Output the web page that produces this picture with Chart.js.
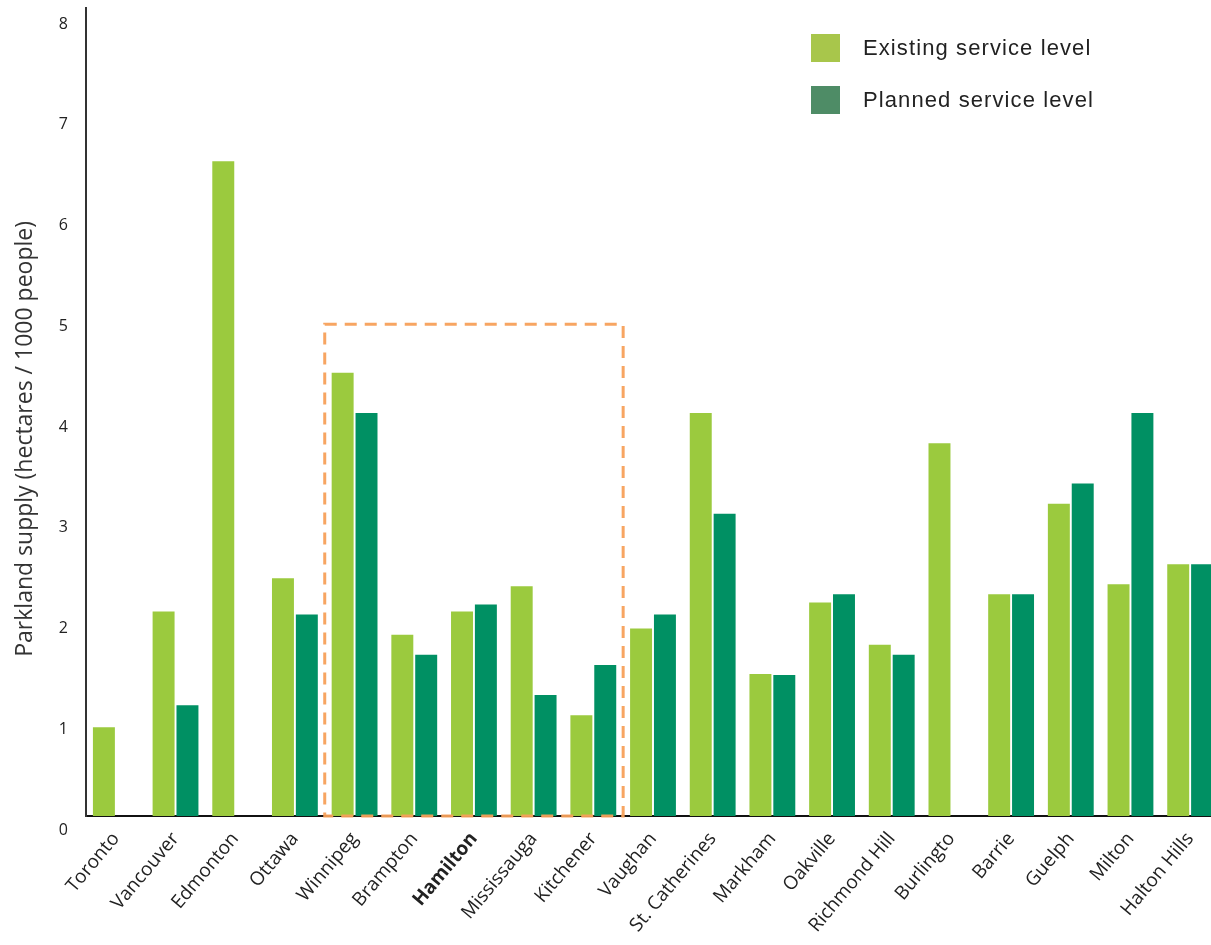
<!DOCTYPE html>
<html>
<head>
<meta charset="utf-8">
<script src="https://cdn.jsdelivr.net/npm/chart.js@4.4.1/dist/chart.umd.min.js"></script>
<style>
  html, body { margin: 0; padding: 0; background: #fff; overflow: hidden; }
  #wrap { position: relative; width: 1222px; height: 945px; }
  #legend { position: absolute; left: 811px; top: 34px; font-family: "Liberation Sans", Arial, sans-serif; font-size: 22px; letter-spacing: 1.1px; color: #222; }
  #legend div { height: 52px; display: flex; align-items: flex-start; }
  #legend span.box { display: inline-block; width: 29px; height: 28px; margin-right: 23px; }
  #legend span.txt { line-height: 28px; }
</style>
</head>
<body>
<div id="wrap">
  <canvas id="myChart" width="1222" height="945"></canvas>
  <div id="legend"></div>
</div>
<script>
let cities = ['Toronto', 'Vancouver', 'Edmonton', 'Ottawa', 'Winnipeg', 'Brampton', 'Hamilton', 'Mississauga', 'Kitchener',
  'Vaughan', 'St. Catherines', 'Markham', 'Oakville', 'Richmond Hill', 'Burlingto', 'Barrie', 'Guelph', 'Milton', 'Halton Hills'];
let existing = [1.0, 2.15, 6.62, 2.48, 4.52, 1.92, 2.15, 2.4, 1.12, 1.98, 4.12, 1.53, 2.24, 1.82, 3.82, 2.32, 3.22, 2.42, 2.62];
let planned = [null, 1.22, null, 2.12, 4.12, 1.72, 2.22, 1.32, 1.62, 2.12, 3.12, 1.52, 2.32, 1.72, null, 2.32, 3.42, 4.12, 2.62];
let yTicks = [0, 1, 2, 3, 4, 5, 6, 7, 8];
let highlightCity = 'Hamilton';
// dashed box goes round Winnipeg .. Kitchener, up to 5
let boxFrom = 'Winnipeg';
let boxTo = 'Kitchener';
let boxTop = 5;

let seriesNames = ['Existing service level', 'Planned service level'];
let barColors = ['#9BCA3E', '#009063'];
let legendColors = ['#A8C64B', '#4E8C66'];

// y axis baseline sits a little above the "0" label in the original
let yMin = 0.12;
let yMax = 8.14;

let legendEl = document.getElementById('legend');
seriesNames.forEach(function (name, i) {
  let row = document.createElement('div');
  row.innerHTML = '<span class="box" style="background:' + legendColors[i] + '"></span><span class="txt">' + name + '</span>';
  legendEl.appendChild(row);
});

let dashedBox = {
  id: 'dashedBox',
  afterDatasetsDraw(chart) {
    let x = chart.scales.x, y = chart.scales.y;
    let i1 = cities.indexOf(boxFrom), i2 = cities.indexOf(boxTo);
    let left = (x.getPixelForValue(i1 - 1) + x.getPixelForValue(i1)) / 2;
    let right = (x.getPixelForValue(i2) + x.getPixelForValue(i2 + 1)) / 2;
    let top = y.getPixelForValue(boxTop);
    let bottom = y.getPixelForValue(yMin);
    let ctx = chart.ctx;
    ctx.save();
    ctx.strokeStyle = 'rgba(247, 160, 90, 0.95)';
    ctx.lineWidth = 3;
    ctx.setLineDash([12, 8]);
    ctx.strokeRect(left, top, right - left, bottom - top);
    ctx.restore();
  }
};

let ctx = document.getElementById('myChart').getContext('2d');
let chart = new Chart(ctx, {
  type: 'bar',
  data: {
    labels: cities,
    datasets: [{
      label: seriesNames[0],
      data: existing,
      backgroundColor: barColors[0]
    }, {
      label: seriesNames[1],
      data: planned,
      backgroundColor: barColors[1]
    }]
  },
  options: {
    responsive: false,
    animation: false,
    layout: { padding: { top: 8, right: 2, left: 0, bottom: 0 } },
    categoryPercentage: 0.8,
    barPercentage: 0.92,
    plugins: {
      legend: { display: false },
      tooltip: { enabled: false }
    },
    scales: {
      x: {
        grid: { display: false, drawTicks: false },
        border: { color: '#111', width: 2 },
        afterFit: function (scale) {
          scale.height = 129;
          scale.paddingRight = 0;
        },
        ticks: {
          autoSkip: false,
          minRotation: 50,
          maxRotation: 50,
          padding: 12,
          color: '#222',
          font: function (c) {
            return {
              family: '"Open Sans", sans-serif',
              size: 19,
              weight: cities[c.index] === highlightCity ? 'bold' : 'normal'
            };
          }
        }
      },
      y: {
        min: yMin,
        max: yMax,
        bounds: 'data',
        grid: { display: false, drawTicks: false },
        border: { color: '#333', width: 2 },
        afterFit: function (scale) {
          scale.width = 86;
          scale.paddingTop = 0;
          scale.paddingBottom = 0;
        },
        afterBuildTicks: function (scale) {
          scale.ticks = yTicks.map(function (v) { return { value: v }; });
        },
        ticks: {
          padding: 18,
          labelOffset: 2,
          color: '#222',
          font: { family: '"Open Sans", sans-serif', size: 16 }
        },
        title: {
          display: true,
          // trailing spaces push the rotated title down a bit, like the original
          text: 'Parkland supply (hectares / 1000 people)         ',
          color: '#333',
          padding: { top: 12, bottom: 0 },
          font: { family: '"Open Sans", sans-serif', size: 23 }
        }
      }
    }
  },
  plugins: [dashedBox]
});
</script>
</body>
</html>
